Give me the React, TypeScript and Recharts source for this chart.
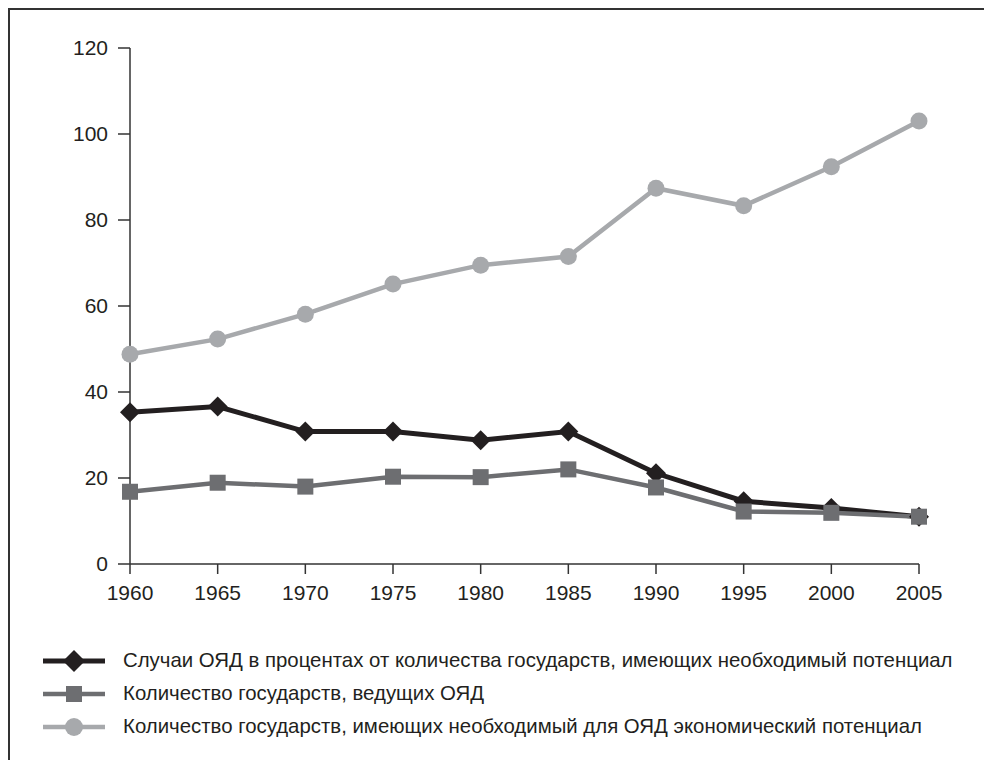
import { LineChart, Line, XAxis, YAxis } from 'recharts';

const years = ['1960', '1965', '1970', '1975', '1980', '1985', '1990', '1995', '2000', '2005'];
const casesPercent = [35.3, 36.6, 30.8, 30.8, 28.8, 30.8, 21.1, 14.6, 13.0, 11.0];
const leadingStates = [16.8, 18.9, 18.0, 20.3, 20.2, 22.0, 17.8, 12.2, 11.9, 11.0];
const capableStates = [48.8, 52.3, 58.1, 65.1, 69.5, 71.5, 87.4, 83.3, 92.4, 103.0];
const yTicks = [0, 20, 40, 60, 80, 100, 120];

const seriesNames = [
  'Случаи ОЯД в процентах от количества государств, имеющих необходимый потенциал',
  'Количество государств, ведущих ОЯД',
  'Количество государств, имеющих необходимый для ОЯД экономический потенциал',
];

const data = years.map((year, i) => ({
  year,
  cases: casesPercent[i],
  leading: leadingStates[i],
  capable: capableStates[i],
}));

const BLACK = '#231f20';
const DARK = '#6d6e71';
const LIGHT = '#a7a9ac';
const FONT = '"Liberation Sans", Arial, sans-serif';

const Diamond = (props: any) => {
  const { cx, cy, fill, r = 10 } = props;
  if (cx == null || cy == null) return null;
  return <path d={`M${cx},${cy - r} L${cx + r},${cy} L${cx},${cy + r} L${cx - r},${cy} Z`} fill={fill} />;
};

const Square = (props: any) => {
  const { cx, cy, fill, s = 8 } = props;
  if (cx == null || cy == null) return null;
  return <rect x={cx - s} y={cy - s} width={s * 2} height={s * 2} fill={fill} />;
};

const Circle = (props: any) => {
  const { cx, cy, fill, r = 8.5 } = props;
  if (cx == null || cy == null) return null;
  return <circle cx={cx} cy={cy} r={r} fill={fill} />;
};

function LegendRow({ color, kind, label, width }: { color: string; kind: string; label: string; width: number }) {
  return (
    <div style={{ display: 'flex', alignItems: 'center', height: 33 }}>
      <svg width={62} height={24} style={{ marginRight: 18 }}>
        <line x1={0} y1={12} x2={62} y2={12} stroke={color} strokeWidth={width} />
        {kind === 'diamond' && <Diamond cx={31} cy={12} r={11} fill={color} />}
        {kind === 'square' && <Square cx={31} cy={12} s={8} fill={color} />}
        {kind === 'circle' && <Circle cx={31} cy={12} r={9} fill={color} />}
      </svg>
      <span style={{ fontFamily: FONT, fontSize: 20.4, color: '#231f20', whiteSpace: 'nowrap' }}>{label}</span>
    </div>
  );
}

export default function App() {
  return (
    <div
      style={{
        position: 'absolute',
        left: 8,
        top: 8,
        width: 976,
        height: 752,
        borderTop: '2px solid #333',
        borderLeft: '2px solid #333',
        boxSizing: 'border-box',
        background: '#fff',
      }}
    >
      <LineChart width={966} height={742} data={data} margin={{ top: 38, right: 57, left: 0, bottom: 148 }}>
        <XAxis
          dataKey="year"
          height={40}
          axisLine={{ stroke: '#333', strokeWidth: 1.5 }}
          tickLine={{ stroke: '#333', strokeWidth: 1.5 }}
          tickSize={10}
          tickMargin={11}
          tick={{ fill: '#231f20', fontSize: 21, fontFamily: FONT }}
          interval={0}
        />
        <YAxis
          width={120}
          domain={[0, 120]}
          ticks={yTicks}
          axisLine={{ stroke: '#333', strokeWidth: 1.5 }}
          tickLine={{ stroke: '#333', strokeWidth: 1.5 }}
          tickSize={12}
          tickMargin={10}
          tick={{ fill: '#231f20', fontSize: 21, fontFamily: FONT }}
        />
        <Line
          type="linear"
          dataKey="cases"
          name={seriesNames[0]}
          stroke={BLACK}
          strokeWidth={5}
          dot={(p: any) => <Diamond key={`d${p.index}`} cx={p.cx} cy={p.cy} r={10} fill={BLACK} />}
          isAnimationActive={false}
        />
        <Line
          type="linear"
          dataKey="leading"
          name={seriesNames[1]}
          stroke={DARK}
          strokeWidth={4.5}
          dot={(p: any) => <Square key={`s${p.index}`} cx={p.cx} cy={p.cy} s={8} fill={DARK} />}
          isAnimationActive={false}
        />
        <Line
          type="linear"
          dataKey="capable"
          name={seriesNames[2]}
          stroke={LIGHT}
          strokeWidth={4.5}
          dot={(p: any) => <Circle key={`c${p.index}`} cx={p.cx} cy={p.cy} r={8.5} fill={LIGHT} />}
          isAnimationActive={false}
        />
      </LineChart>
      <div style={{ position: 'absolute', left: 33, top: 634 }}>
        <LegendRow color={BLACK} kind="diamond" label={seriesNames[0]} width={5} />
        <LegendRow color={DARK} kind="square" label={seriesNames[1]} width={4.5} />
        <LegendRow color={LIGHT} kind="circle" label={seriesNames[2]} width={4.5} />
      </div>
    </div>
  );
}
